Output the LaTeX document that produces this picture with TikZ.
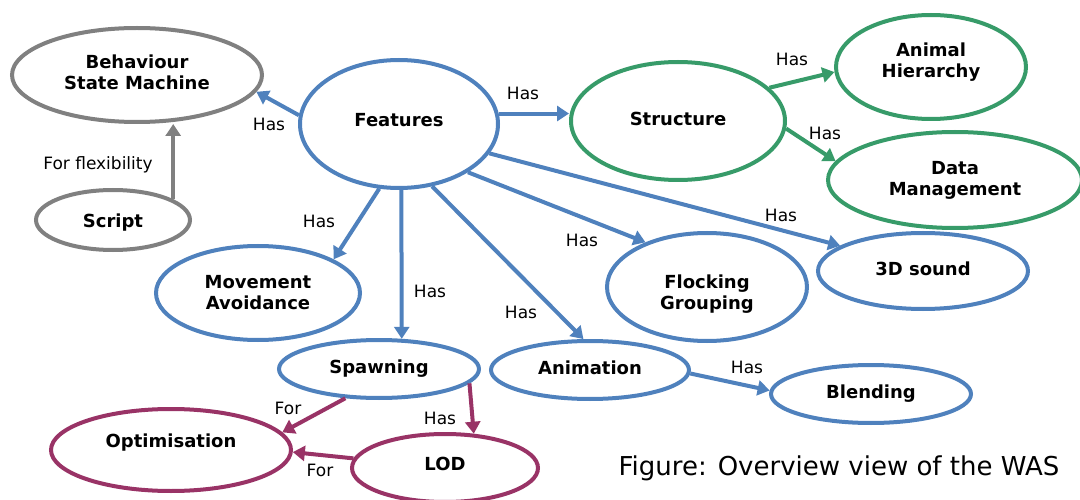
\documentclass[tikz,border=0pt]{standalone}
\usepackage{fontspec}
\setmainfont{DejaVu Sans}
\usetikzlibrary{shapes.geometric,arrows.meta}
\definecolor{cblue}{RGB}{79,129,189}
\definecolor{cgreen}{RGB}{55,155,105}
\definecolor{cgray}{RGB}{128,128,128}
\definecolor{cmag}{RGB}{153,51,102}
\newcommand\upby[2]{\raisebox{#1}[\height][\depth]{#2}}
\begin{document}
\begin{tikzpicture}[x=1pt,y=-1pt,
  ell/.style={ellipse, draw, line width=4pt, inner sep=0pt, align=center,
    font=\fontsize{18}{21}\selectfont\bfseries},
  bell/.style={ell, draw=cblue},
  gell/.style={ell, draw=cgray},
  grell/.style={ell, draw=cgreen},
  mell/.style={ell, draw=cmag},
  one/.style={text height=13pt, text depth=4pt},
  arr/.style={-{Triangle[length=12pt,width=15pt]}, line width=4pt},
  barr/.style={arr, draw=cblue, fill=cblue},
  garr/.style={arr, draw=cgray, fill=cgray},
  grarr/.style={arr, draw=cgreen, fill=cgreen},
  marr/.style={arr, draw=cmag, fill=cmag},
  lbl/.style={inner sep=0pt, font=\fontsize{17}{20}\selectfont, text height=12.5pt, text depth=0pt},
  captext/.style={inner sep=0pt, font=\fontsize{26}{30}\selectfont, text height=19pt, text depth=0pt}]
\useasboundingbox (0,0) rectangle (1080,500);
% nodes
\node[gell, minimum width=250pt, minimum height=94pt] (behav) at (137,75) {\upby{3pt}{Behaviour}\\\upby{3pt}{State Machine}};
\node[gell, minimum width=154pt, minimum height=60pt, text height=15pt, text depth=0pt] (script) at (113,220) {Script};
\node[bell, minimum width=198pt, minimum height=128pt, text height=13pt, text depth=8pt] (feat) at (399,124) {Features};
\node[grell, one, minimum width=214pt, minimum height=118pt] (struct) at (678,121) {Structure};
\node[grell, minimum width=190pt, minimum height=104pt] (animal) at (931,67) {\upby{5pt}{Animal}\\\upby{5pt}{Hierarchy}};
\node[grell, minimum width=254pt, minimum height=96pt] (data) at (955,180) {Data\\Management};
\node[bell, one, minimum width=210pt, minimum height=76pt] (sound) at (923,271) {3D sound};
\node[bell, minimum width=200pt, minimum height=108pt] (flock) at (707,287) {\upby{-7pt}{Flocking}\\\upby{-7pt}{Grouping}};
\node[bell, minimum width=204pt, minimum height=94pt] (move) at (258,293) {Movement\\Avoidance};
\node[bell, one, minimum width=200pt, minimum height=58pt] (spawn) at (379,369) {Spawning};
\node[bell, one, minimum width=198pt, minimum height=58pt] (anim) at (590,370) {Animation};
\node[bell, one, minimum width=200pt, minimum height=58pt] (blend) at (871,394) {Blending};
\node[mell, minimum width=240pt, minimum height=82pt, text height=13pt, text depth=18pt] (optim) at (171,450) {Optimisation};
\node[mell, minimum width=186pt, minimum height=68pt, text height=13pt, text depth=8pt] (lod) at (445,468) {LOD};
% connectors
\draw[barr] (feat.175) -- (behav.352);
\draw[garr] (script.19) -- (script.19 |- behav.south);
\draw[barr] (feat.6) -- (feat.6 -| struct.west);
\draw[grarr] (struct.20) -- (animal.183);
\draw[grarr] (struct.-4) -- (data.171);
\draw[barr] (feat.-18) -- (sound.163);
\draw[barr] (feat.-35) -- (flock.144);
\draw[barr] (feat.253) -- (move.24);
\draw[barr] (feat.272) -- (spawn.53);
\draw[barr] (feat.298) -- (anim.102);
\draw[barr] (anim.-2) -- (blend.178);
\draw[marr] (spawn.221) -- (optim.9);
\draw[marr] (spawn.-9) -- (lod.50);
\draw[marr] (lod.174) -- (optim.-1);
% labels
\node[lbl] (l1) at (269,124) {Has};
\node[lbl] (l2) at (98,163) {For flexibility};
\node[lbl] (l3) at (523,93) {Has};
\node[lbl] (l4) at (792,59) {Has};
\node[lbl] (l5) at (825,133) {Has};
\node[lbl] (l6) at (781,215) {Has};
\node[lbl] (l7) at (582,240) {Has};
\node[lbl] (l8) at (319,221) {Has};
\node[lbl] (l9) at (430,291) {Has};
\node[lbl] (l10) at (521,312) {Has};
\node[lbl] (l11) at (747,367) {Has};
\node[lbl] (l12) at (288,408) {For};
\node[lbl] (l13) at (440,418) {Has};
\node[lbl] (l14) at (320,470) {For};
\node[captext] (caption) at (839,466) {Figure: Overview view of the WAS};
\end{tikzpicture}
\end{document}
